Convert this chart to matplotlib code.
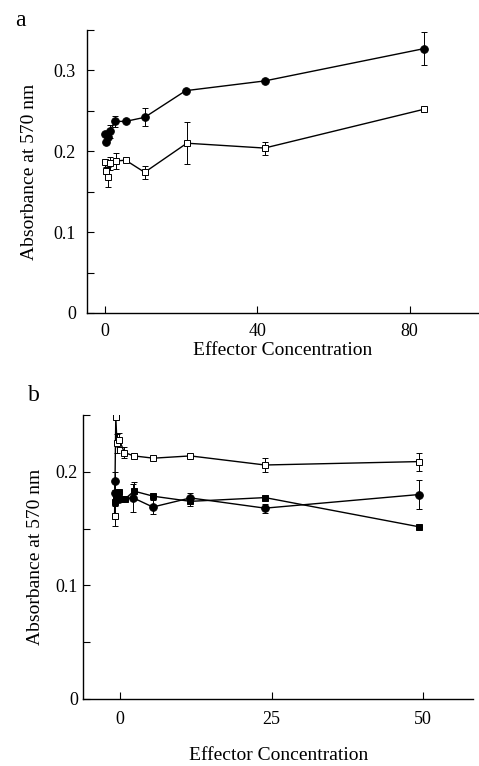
import numpy as np
import matplotlib.pyplot as plt
from matplotlib.ticker import MultipleLocator

# Panel a
a_circ_x = [0.0, 0.3, 0.8, 1.3, 2.6, 5.4, 10.4, 21.2, 41.9, 83.8]
a_circ_y = [0.221, 0.212, 0.218, 0.225, 0.237, 0.237, 0.242, 0.275, 0.287, 0.327]
a_circ_e = [0.0, 0.0, 0.0, 0.008, 0.007, 0.0, 0.011, 0.0, 0.0, 0.020]

a_sq_x = [0.0, 0.3, 0.8, 1.3, 2.8, 5.4, 10.4, 21.5, 41.9, 83.8]
a_sq_y = [0.187, 0.176, 0.168, 0.185, 0.188, 0.189, 0.174, 0.210, 0.204, 0.252]
a_sq_e = [0.0, 0.004, 0.012, 0.008, 0.010, 0.0, 0.008, 0.026, 0.008, 0.0]

# Panel b
b_osq_x = [-0.9, -0.7, -0.5, -0.1, 0.7, 2.3, 5.5, 11.6, 23.9, 49.3]
b_osq_y = [0.161, 0.248, 0.225, 0.228, 0.217, 0.214, 0.212, 0.214, 0.206, 0.209]
b_osq_e = [0.009, 0.0, 0.008, 0.006, 0.005, 0.0, 0.0, 0.0, 0.006, 0.008]

b_circ_x = [-0.9, -0.8, -0.5, -0.2, 2.2, 5.4, 11.6, 23.9, 49.3]
b_circ_y = [0.192, 0.181, 0.177, 0.176, 0.177, 0.169, 0.177, 0.168, 0.180]
b_circ_e = [0.008, 0.0, 0.0, 0.0, 0.012, 0.006, 0.004, 0.004, 0.013]

b_fsq_x = [-0.9, -0.6, -0.2, 0.2, 0.8, 2.3, 5.5, 11.6, 23.9, 49.3]
b_fsq_y = [0.173, 0.178, 0.182, 0.176, 0.176, 0.183, 0.1785, 0.174, 0.1773, 0.1516]
b_fsq_e = [0.0, 0.0, 0.0, 0.0, 0.0, 0.008, 0.0, 0.004, 0.0, 0.0]

plt.rcParams['font.family'] = ['Liberation Serif', 'DejaVu Serif']

fig = plt.figure(figsize=(4.79, 7.66), dpi=100)
ax_a = fig.add_axes([0.1816, 0.5914, 0.8164, 0.3694])
ax_b = fig.add_axes([0.174, 0.0875, 0.8135, 0.3707])


def style(ax, pad, xpad):
    for s in ['top', 'right']:
        ax.spines[s].set_visible(False)
    for s in ['left', 'bottom']:
        ax.spines[s].set_linewidth(1.0)
    ax.tick_params(direction='in', length=5, width=0.8, labelsize=13)
    ax.tick_params(axis='y', which='both', pad=pad)
    ax.tick_params(axis='y', which='minor', direction='in', length=5, width=0.8)
    ax.tick_params(axis='x', pad=xpad)


def series(ax, x, y, e, marker, filled, ms):
    ax.errorbar(x, y, yerr=e, color='black', lw=1.0, elinewidth=0.7, capsize=2,
                capthick=0.7, marker=marker, markersize=ms,
                markerfacecolor='black' if filled else 'white',
                markeredgecolor='black', markeredgewidth=0.7)


series(ax_a, a_sq_x, a_sq_y, a_sq_e, 's', False, 5)
series(ax_a, a_circ_x, a_circ_y, a_circ_e, 'o', True, 5.5)
ax_a.set_xlim(-4.75, 98)
ax_a.set_ylim(0, 0.35)
ax_a.set_xticks([0, 40, 80])
ax_a.set_yticks([0, 0.1, 0.2, 0.3])
ax_a.set_yticklabels(['0', '0.1', '0.2', '0.3'])
ax_a.yaxis.set_minor_locator(MultipleLocator(0.05))
style(ax_a, 8, 7)
ax_a.set_ylabel('Absorbance at 570 nm', fontsize=14, labelpad=11)
ax_a.set_xlabel('Effector Concentration', fontsize=14, labelpad=2)
fig.text(0.032, 0.987, 'a', fontsize=17, va='top', ha='left')

series(ax_b, b_osq_x, b_osq_y, b_osq_e, 's', False, 5)
series(ax_b, b_circ_x, b_circ_y, b_circ_e, 'o', True, 5.5)
series(ax_b, b_fsq_x, b_fsq_y, b_fsq_e, 's', True, 5)
ax_b.set_xlim(-6.05, 58.2)
ax_b.set_ylim(0, 0.25)
ax_b.set_xticks([0, 25, 50])
ax_b.set_yticks([0, 0.1, 0.2])
ax_b.set_yticklabels(['0', '0.1', '0.2'])
ax_b.yaxis.set_minor_locator(MultipleLocator(0.05))
style(ax_b, 4, 9)
ax_b.set_ylabel('Absorbance at 570 nm', fontsize=14, labelpad=8)
ax_b.set_xlabel('Effector Concentration', fontsize=14, labelpad=13)
fig.text(0.058, 0.497, 'b', fontsize=17, va='top', ha='left')

fig.savefig('out.png', dpi=100)
